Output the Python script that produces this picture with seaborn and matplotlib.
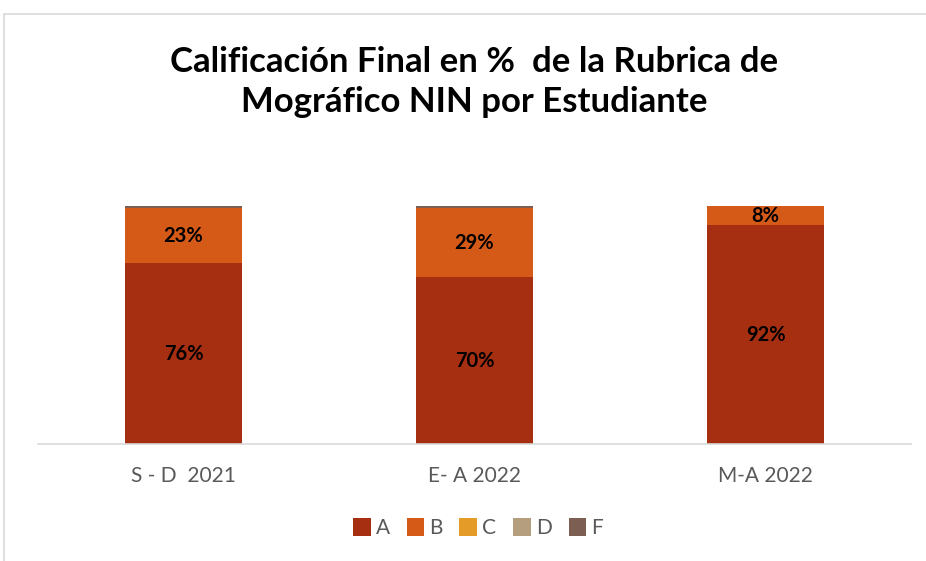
import matplotlib
matplotlib.use("Agg")
import matplotlib.pyplot as plt
import seaborn as sns
import pandas as pd
import numpy as np
from matplotlib.patches import Patch
from matplotlib.lines import Line2D

categories = ["S - D  2021", "E- A 2022", "M-A 2022"]
grades = ["A", "B", "C", "D", "F"]
val_A = [76, 70, 92]
val_B = [23, 29, 8]
val_C = [0, 0, 0]
val_D = [0, 0, 0]
val_F = [1, 1, 0]
colors = ["#A62F11", "#D65A17", "#E49B27", "#B49E7E", "#7C5F52"]
title = "Calificación Final en %  de la Rubrica de\nMográfico NIN por Estudiante"

sns.set_theme(style="white")
plt.rcParams['font.family'] = ['Lato', 'DejaVu Sans']

series = [val_A, val_B, val_C, val_D, val_F]
df = pd.DataFrame({"cat": categories})
cum = np.zeros(len(categories))
for g, v in zip(grades, series):
    cum = cum + np.array(v, dtype=float)
    df["cum_" + g] = cum.copy()

fig = plt.figure(figsize=(9.26, 5.61), dpi=100)
ax = fig.add_axes([38/926, 1-444/561, (911-38)/926, (444-206)/561])

# draw from top layer down so lower layers overlay
for g, c in reversed(list(zip(grades, colors))):
    sns.barplot(data=df, x="cat", y="cum_" + g, color=c, width=0.40,
                saturation=1, ax=ax, order=categories, linewidth=0, edgecolor="none")

ax.set_ylim(0, 100)
ax.set_xlim(-0.5, 2.5)
ax.set_xlabel("")
ax.set_ylabel("")
ax.set_yticks([])
for s in ["top", "right", "left"]:
    ax.spines[s].set_visible(False)
ax.spines["bottom"].set_color("#d9d9d9")
ax.spines["bottom"].set_linewidth(1.2)
ax.tick_params(axis="x", length=0, pad=16, labelsize=15, labelcolor="#595959")

# data labels for A and B
bottom = np.zeros(len(categories))
for g, v in zip(grades, series):
    for i, val in enumerate(v):
        if g in ("A", "B") and val > 0:
            ax.text(i, bottom[i] + val / 2, f"{val}%", ha="center", va="center",
                    fontsize=14.5, fontweight="bold", color="black")
    bottom = bottom + np.array(v)

fig.text(474/926, 1-82/561, title, ha="center", va="center", fontsize=25,
         fontweight="bold", color="black", linespacing=1.3)

handles = [Patch(facecolor=c, edgecolor="none", label=g) for g, c in zip(grades, colors)]
fig.legend(handles=handles, loc="center", bbox_to_anchor=(478/926, 1-528/561), ncol=5,
           frameon=False, fontsize=15, labelcolor="#595959", handlelength=0.85,
           handleheight=1.0, handletextpad=0.25, columnspacing=0.8)

# chart frame
fig.add_artist(Line2D([4/926, 1], [1-14/561, 1-14/561], color="#d9d9d9", lw=1.2,
                      transform=fig.transFigure))
fig.add_artist(Line2D([4/926, 4/926], [0, 1-14/561], color="#d9d9d9", lw=1.2,
                      transform=fig.transFigure))

fig.savefig("out.png", dpi=100)
